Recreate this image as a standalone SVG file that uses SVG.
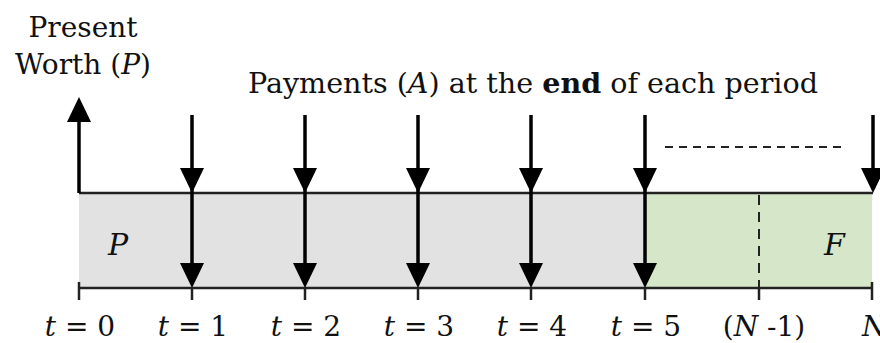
<svg xmlns="http://www.w3.org/2000/svg" width="880" height="343" viewBox="0 0 880 343">
<style>
text{font-family:"DejaVu Serif","Liberation Serif",serif;fill:#111}
.lbl{font-size:28px}
.big{font-size:30px}
.tl{font-size:28px;text-anchor:middle}
.it{font-style:italic}
.axis{stroke:#222;stroke-width:2.5;fill:none}
.arr{stroke:#000;stroke-width:3.5;fill:none}
.dash{stroke:#222;stroke-width:2;stroke-dasharray:8 6;fill:none}
.dashv{stroke:#222;stroke-width:2;stroke-dasharray:10 7;fill:none}
</style>
<defs>
<polygon id="hd" points="-12,-25 12,-25 0,0" fill="#000"/>
<polygon id="hu" points="-12,25 12,25 0,0" fill="#000"/>
</defs>
<rect x="0" y="0" width="880" height="343" fill="#fff"/>
<g id="regions">
<rect id="pregion" x="79" y="193" width="566" height="95" fill="#e2e2e2"/>
<rect id="fregion" x="645" y="193" width="227" height="95" fill="#d5e7c8"/>
</g>
<g id="connectors">
<line class="axis" x1="79" y1="193" x2="873" y2="193"/>
<line class="axis" x1="79" y1="288" x2="873" y2="288"/>
<line class="axis" x1="79" y1="282" x2="79" y2="300"/>
<line class="axis" x1="192" y1="288" x2="192" y2="300"/>
<line class="axis" x1="305" y1="288" x2="305" y2="300"/>
<line class="axis" x1="418" y1="288" x2="418" y2="300"/>
<line class="axis" x1="531" y1="288" x2="531" y2="300"/>
<line class="axis" x1="645" y1="288" x2="645" y2="300"/>
<line class="axis" x1="759" y1="288" x2="759" y2="300"/>
<line class="axis" x1="872" y1="282" x2="872" y2="300"/>
<line class="dashv" x1="759" y1="195" x2="759" y2="288"/>
<line class="dash" x1="665" y1="147" x2="842" y2="147"/>
<g id="p-arrow"><line class="arr" x1="79" y1="193" x2="79" y2="110"/><use href="#hu" x="79" y="97"/></g>
<g id="a1"><line class="arr" x1="192" y1="115" x2="192" y2="270"/><use href="#hd" x="192" y="193"/><use href="#hd" x="192" y="288"/></g>
<g id="a2"><line class="arr" x1="305" y1="115" x2="305" y2="270"/><use href="#hd" x="305" y="193"/><use href="#hd" x="305" y="288"/></g>
<g id="a3"><line class="arr" x1="418" y1="115" x2="418" y2="270"/><use href="#hd" x="418" y="193"/><use href="#hd" x="418" y="288"/></g>
<g id="a4"><line class="arr" x1="531" y1="115" x2="531" y2="270"/><use href="#hd" x="531" y="193"/><use href="#hd" x="531" y="288"/></g>
<g id="a5"><line class="arr" x1="645" y1="115" x2="645" y2="270"/><use href="#hd" x="645" y="193"/><use href="#hd" x="645" y="288"/></g>
<g id="aN"><line class="arr" x1="873" y1="115" x2="873" y2="180"/><use href="#hd" x="873" y="193"/></g>
</g>
<g id="title-present">
<text class="lbl" x="83" y="37" text-anchor="middle">Present</text>
<text class="lbl" x="83" y="74" text-anchor="middle">Worth (<tspan class="it">P</tspan>)</text>
</g>
<g id="title-payments">
<text class="lbl" x="248" y="93" textLength="570" lengthAdjust="spacingAndGlyphs">Payments (<tspan class="it">A</tspan>) at the <tspan font-weight="bold">end</tspan> of each  period</text>
</g>
<g id="region-labels">
<text class="big it" x="108" y="255">P</text>
<text class="big it" x="824" y="255">F</text>
</g>
<g id="time-labels">
<text class="tl" x="80" y="336"><tspan class="it">t</tspan> = 0</text>
<text class="tl" x="193" y="336"><tspan class="it">t</tspan> = 1</text>
<text class="tl" x="306" y="336"><tspan class="it">t</tspan> = 2</text>
<text class="tl" x="419" y="336"><tspan class="it">t</tspan> = 3</text>
<text class="tl" x="532" y="336"><tspan class="it">t</tspan> = 4</text>
<text class="tl" x="646" y="336"><tspan class="it">t</tspan> = 5</text>
<text class="tl" x="764" y="336">(<tspan class="it">N</tspan> -1)</text>
<text class="it" x="862" y="336" style="font-size:28px;text-anchor:start">N</text>
</g>
</svg>
